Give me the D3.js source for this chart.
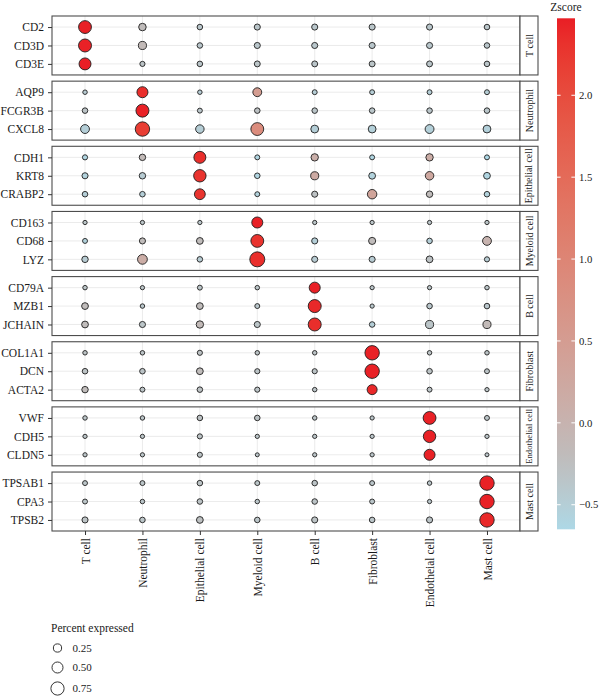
<!DOCTYPE html>
<html>
<head>
<meta charset="utf-8">
<script src="https://cdn.jsdelivr.net/npm/d3@7"></script>
<style>
	body { margin: 0; background: #fff; }
	text { font-family: "Liberation Serif", "DejaVu Serif", serif; fill: #1a1a1a; }
</style>
</head>
<body>
<div class="container"></div>
<script>
const WIDTH = 600
	, HEIGHT = 698
	, PANEL_LEFT = 52
	, PANEL_RIGHT = 520
	, STRIP_W = 18
	, PANEL_TOP = 16
	, PANEL_BOTTOM = 531
	, BAR_X = 557
	, BAR_W = 18
	, BAR_TOP = 18.3
	, BAR_BOTTOM = 529.3;

// cell types (columns / facet groups)
var cellTypes = ['T cell', 'Neutrophil', 'Epithelial cell', 'Myeloid cell', 'B cell', 'Fibroblast', 'Endothelial cell', 'Mast cell'];
// x axis labels as printed (typo kept)
var xLabels = ['T cell', 'Neutrophil', 'Epithelial cell', 'Myeloid cell', 'B cell', 'Fibroblast', 'Endotheial cell', 'Mast cell'];

var genes = ['CD2', 'CD3D', 'CD3E', 'AQP9', 'FCGR3B', 'CXCL8', 'CDH1', 'KRT8', 'CRABP2',
	'CD163', 'CD68', 'LYZ', 'CD79A', 'MZB1', 'JCHAIN', 'COL1A1', 'DCN', 'ACTA2',
	'VWF', 'CDH5', 'CLDN5', 'TPSAB1', 'CPA3', 'TPSB2'];
var geneGroups = ['T cell', 'T cell', 'T cell', 'Neutrophil', 'Neutrophil', 'Neutrophil',
	'Epithelial cell', 'Epithelial cell', 'Epithelial cell', 'Myeloid cell', 'Myeloid cell', 'Myeloid cell',
	'B cell', 'B cell', 'B cell', 'Fibroblast', 'Fibroblast', 'Fibroblast',
	'Endothelial cell', 'Endothelial cell', 'Endothelial cell', 'Mast cell', 'Mast cell', 'Mast cell'];

// percent expressed, one row per gene, columns follow cellTypes
var pctExpressed = [
	[0.70, 0.20, 0.08, 0.11, 0.11, 0.11, 0.11, 0.08],
	[0.72, 0.24, 0.08, 0.11, 0.11, 0.11, 0.11, 0.08],
	[0.60, 0.06, 0.08, 0.10, 0.10, 0.10, 0.10, 0.08],
	[0.03, 0.50, 0.03, 0.30, 0.05, 0.05, 0.05, 0.05],
	[0.08, 0.72, 0.05, 0.08, 0.08, 0.08, 0.08, 0.08],
	[0.30, 0.90, 0.27, 0.70, 0.22, 0.22, 0.30, 0.22],
	[0.06, 0.13, 0.60, 0.05, 0.19, 0.05, 0.19, 0.05],
	[0.11, 0.13, 0.65, 0.08, 0.24, 0.15, 0.27, 0.15],
	[0.08, 0.08, 0.48, 0.05, 0.11, 0.35, 0.13, 0.08],
	[0.02, 0.02, 0.02, 0.50, 0.02, 0.02, 0.02, 0.02],
	[0.05, 0.11, 0.15, 0.70, 0.11, 0.17, 0.08, 0.30],
	[0.13, 0.38, 0.08, 0.98, 0.11, 0.11, 0.15, 0.06],
	[0.03, 0.02, 0.05, 0.03, 0.50, 0.02, 0.02, 0.03],
	[0.15, 0.03, 0.15, 0.05, 0.72, 0.02, 0.08, 0.08],
	[0.15, 0.11, 0.19, 0.11, 0.72, 0.08, 0.24, 0.24],
	[0.03, 0.03, 0.06, 0.03, 0.03, 0.90, 0.03, 0.03],
	[0.08, 0.08, 0.15, 0.06, 0.06, 0.90, 0.08, 0.05],
	[0.13, 0.05, 0.08, 0.06, 0.03, 0.40, 0.05, 0.02],
	[0.03, 0.03, 0.08, 0.08, 0.03, 0.02, 0.70, 0.05],
	[0.02, 0.02, 0.06, 0.02, 0.02, 0.02, 0.65, 0.02],
	[0.02, 0.02, 0.06, 0.01, 0.02, 0.02, 0.50, 0.01],
	[0.05, 0.05, 0.08, 0.05, 0.08, 0.05, 0.03, 0.90],
	[0.05, 0.03, 0.08, 0.03, 0.08, 0.05, 0.02, 0.90],
	[0.11, 0.08, 0.15, 0.08, 0.11, 0.08, 0.11, 0.90]
];

// z-scored average expression, same layout
var zscores = [
	[2.45, -0.20, -0.38, -0.37, -0.38, -0.37, -0.38, -0.37],
	[2.45, -0.15, -0.38, -0.38, -0.39, -0.38, -0.39, -0.38],
	[2.47, -0.33, -0.36, -0.35, -0.36, -0.35, -0.36, -0.36],
	[-0.45, 2.35, -0.47, 0.50, -0.48, -0.48, -0.49, -0.48],
	[-0.33, 2.45, -0.36, -0.30, -0.36, -0.37, -0.36, -0.37],
	[-0.50, 2.20, -0.48, 0.85, -0.50, -0.52, -0.52, -0.53],
	[-0.60, -0.15, 2.35, -0.60, 0.10, -0.60, 0.15, -0.65],
	[-0.55, -0.45, 2.30, -0.60, 0.20, -0.55, 0.25, -0.60],
	[-0.50, -0.50, 2.30, -0.55, -0.30, 0.35, -0.20, -0.55],
	[-0.35, -0.35, -0.36, 2.46, -0.35, -0.35, -0.35, -0.35],
	[-0.55, -0.20, -0.20, 2.30, -0.50, -0.20, -0.50, 0.00],
	[-0.45, 0.15, -0.45, 2.35, -0.45, -0.45, -0.30, -0.45],
	[-0.35, -0.35, -0.35, -0.35, 2.46, -0.36, -0.35, -0.35],
	[-0.20, -0.38, -0.20, -0.38, 2.40, -0.40, -0.38, -0.38],
	[-0.20, -0.35, -0.15, -0.35, 2.35, -0.50, -0.35, -0.15],
	[-0.32, -0.33, -0.30, -0.33, -0.33, 2.45, -0.32, -0.33],
	[-0.32, -0.33, -0.20, -0.33, -0.33, 2.45, -0.32, -0.33],
	[-0.20, -0.33, -0.30, -0.33, -0.34, 2.40, -0.33, -0.34],
	[-0.35, -0.35, -0.30, -0.32, -0.35, -0.36, 2.45, -0.35],
	[-0.35, -0.35, -0.32, -0.35, -0.35, -0.36, 2.45, -0.35],
	[-0.35, -0.35, -0.32, -0.36, -0.35, -0.36, 2.45, -0.36],
	[-0.35, -0.35, -0.32, -0.35, -0.33, -0.36, -0.36, 2.45],
	[-0.35, -0.36, -0.32, -0.36, -0.33, -0.36, -0.37, 2.45],
	[-0.32, -0.35, -0.28, -0.35, -0.32, -0.35, -0.33, 2.40]
];

var zTicks = [-0.5, 0, 0.5, 1.0, 1.5, 2.0];
var sizeBreaks = [0.25, 0.50, 0.75];

var translate = function (x, y) {
	return 'translate(' + x + ',' + y + ')';
};

var cells = [];
genes.forEach(function (gene, i) {
	cellTypes.forEach(function (ct, j) {
		cells.push({gene: gene, group: geneGroups[i], cellType: ct, pct: pctExpressed[i][j], z: zscores[i][j]});
	});
});

var svg = d3.select('.container').append('svg')
	.attr('width', WIDTH)
	.attr('height', HEIGHT);

var xScale = d3.scalePoint().domain(cellTypes).range([PANEL_LEFT, PANEL_RIGHT]).padding(0.575);
var groupScale = d3.scaleBand().domain(cellTypes).range([PANEL_TOP, PANEL_BOTTOM]).paddingInner(0.095);
var bw = groupScale.bandwidth();

var zExtent = d3.extent(cells, function (d) { return d.z; });
var color = d3.scaleLinear()
	.domain([zExtent[0], -0.25, zExtent[1]])
	.range(['#add8e6', '#bebebe', '#e91e25'])
	.interpolate(d3.interpolateLab);

// ggplot-like size: area linear in percent
var pctExtent = d3.extent(cells, function (d) { return d.pct; });
var areaScale = d3.scaleLinear().domain(pctExtent).range([2.0 * 2.0, 7.5 * 7.5]);
var radius = function (p) { return Math.sqrt(Math.max(0.5, areaScale(p))); };

cellTypes.forEach(function (group) {
	var groupGenes = genes.filter(function (g, i) { return geneGroups[i] == group; });
	var rowScale = d3.scalePoint().domain(groupGenes).range([0, bw]).padding(0.6);
	var panel = svg.append('g').attr('transform', translate(0, groupScale(group)));

	// grid
	panel.selectAll('.vgrid').data(cellTypes).enter().append('line')
		.attr('x1', function (d) { return xScale(d); })
		.attr('x2', function (d) { return xScale(d); })
		.attr('y1', 0).attr('y2', bw)
		.attr('stroke', '#e6e6e6').attr('stroke-width', 0.8);
	panel.selectAll('.hgrid').data(groupGenes).enter().append('line')
		.attr('x1', PANEL_LEFT).attr('x2', PANEL_RIGHT)
		.attr('y1', function (d) { return rowScale(d); })
		.attr('y2', function (d) { return rowScale(d); })
		.attr('stroke', '#e6e6e6').attr('stroke-width', 0.8);

	// dots
	panel.selectAll('circle').data(cells.filter(function (d) { return d.group == group; }))
		.enter().append('circle')
		.attr('cx', function (d) { return xScale(d.cellType); })
		.attr('cy', function (d) { return rowScale(d.gene); })
		.attr('r', function (d) { return radius(d.pct); })
		.attr('fill', function (d) { return color(d.z); })
		.attr('stroke', '#1e1e1e')
		.attr('stroke-width', 0.9);

	// border
	panel.append('rect')
		.attr('x', PANEL_LEFT).attr('y', 0)
		.attr('width', PANEL_RIGHT - PANEL_LEFT).attr('height', bw)
		.attr('fill', 'none').attr('stroke', '#4d4d4d').attr('stroke-width', 1.1);

	// strip
	panel.append('rect')
		.attr('x', PANEL_RIGHT).attr('y', 0)
		.attr('width', STRIP_W).attr('height', bw)
		.attr('fill', '#fff').attr('stroke', '#4d4d4d').attr('stroke-width', 1.1);
	var strip = panel.append('text')
		.attr('transform', translate(PANEL_RIGHT + STRIP_W / 2, bw / 2) + ' rotate(-90)')
		.attr('text-anchor', 'middle')
		.attr('dy', '0.35em')
		.style('font-size', '10px')
		.text(group);
	var len = strip.node().getComputedTextLength();
	if (len > bw - 4) strip.style('font-size', (10 * (bw - 4) / len) + 'px');

	// y axis
	var yAxis = panel.append('g')
		.attr('transform', translate(PANEL_LEFT, 0))
		.call(d3.axisLeft(rowScale).tickSize(4).tickPadding(4));
	yAxis.select('.domain').remove();
	yAxis.selectAll('line').attr('stroke', '#333');
	yAxis.selectAll('text')
		.attr('font-family', null)
		.style('font-size', '11.5px');
});

// x axis
var xAxis = svg.append('g')
	.attr('transform', translate(0, PANEL_BOTTOM))
	.call(d3.axisBottom(xScale).tickSize(4).tickFormat(function (d, i) { return xLabels[i]; }));
xAxis.select('.domain').remove();
xAxis.selectAll('line').attr('stroke', '#333');
xAxis.selectAll('text')
	.attr('transform', 'rotate(-90)')
	.attr('text-anchor', 'end')
	.attr('x', -7)
	.attr('y', 0)
	.attr('dy', '0.35em')
	.style('font-size', '11.5px');

// colour bar
var zScale = d3.scaleLinear().domain(zExtent).range([BAR_BOTTOM, BAR_TOP]);
var grad = svg.append('defs').append('linearGradient')
	.attr('id', 'zgrad')
	.attr('x1', 0).attr('y1', 1).attr('x2', 0).attr('y2', 0);
d3.range(0, 1.0001, 0.05).forEach(function (t) {
	grad.append('stop')
		.attr('offset', t)
		.attr('stop-color', color(zExtent[0] + t * (zExtent[1] - zExtent[0])));
});
svg.append('rect')
	.attr('x', BAR_X).attr('y', BAR_TOP)
	.attr('width', BAR_W).attr('height', BAR_BOTTOM - BAR_TOP)
	.attr('fill', 'url(#zgrad)');
svg.selectAll('.ztickl').data(zTicks).enter().append('line')
	.attr('x1', BAR_X).attr('x2', BAR_X + 3.6)
	.attr('y1', zScale).attr('y2', zScale)
	.attr('stroke', '#fff').attr('stroke-width', 1);
svg.selectAll('.ztickr').data(zTicks).enter().append('line')
	.attr('x1', BAR_X + BAR_W - 3.6).attr('x2', BAR_X + BAR_W)
	.attr('y1', zScale).attr('y2', zScale)
	.attr('stroke', '#fff').attr('stroke-width', 1);
svg.selectAll('.zlab').data(zTicks).enter().append('text')
	.attr('x', BAR_X + BAR_W + 4)
	.attr('y', zScale)
	.attr('dy', '0.35em')
	.style('font-size', '10.7px')
	.text(d3.format('.1f'));
svg.append('text')
	.attr('x', BAR_X + BAR_W / 2)
	.attr('y', 11)
	.attr('text-anchor', 'middle')
	.style('font-size', '11.5px')
	.text('Zscore');

// size legend
svg.append('text')
	.attr('x', 51).attr('y', 632)
	.style('font-size', '11.5px')
	.text('Percent expressed');
var legendY = [648, 667.5, 688.5];
sizeBreaks.forEach(function (b, i) {
	svg.append('circle')
		.attr('cx', 57.5).attr('cy', legendY[i])
		.attr('r', radius(b))
		.attr('fill', '#fff')
		.attr('stroke', '#1e1e1e')
		.attr('stroke-width', 0.9);
	svg.append('text')
		.attr('x', 72.5).attr('y', legendY[i])
		.attr('dy', '0.35em')
		.style('font-size', '11px')
		.text(d3.format('.2f')(b));
});
</script>
</body>
</html>
